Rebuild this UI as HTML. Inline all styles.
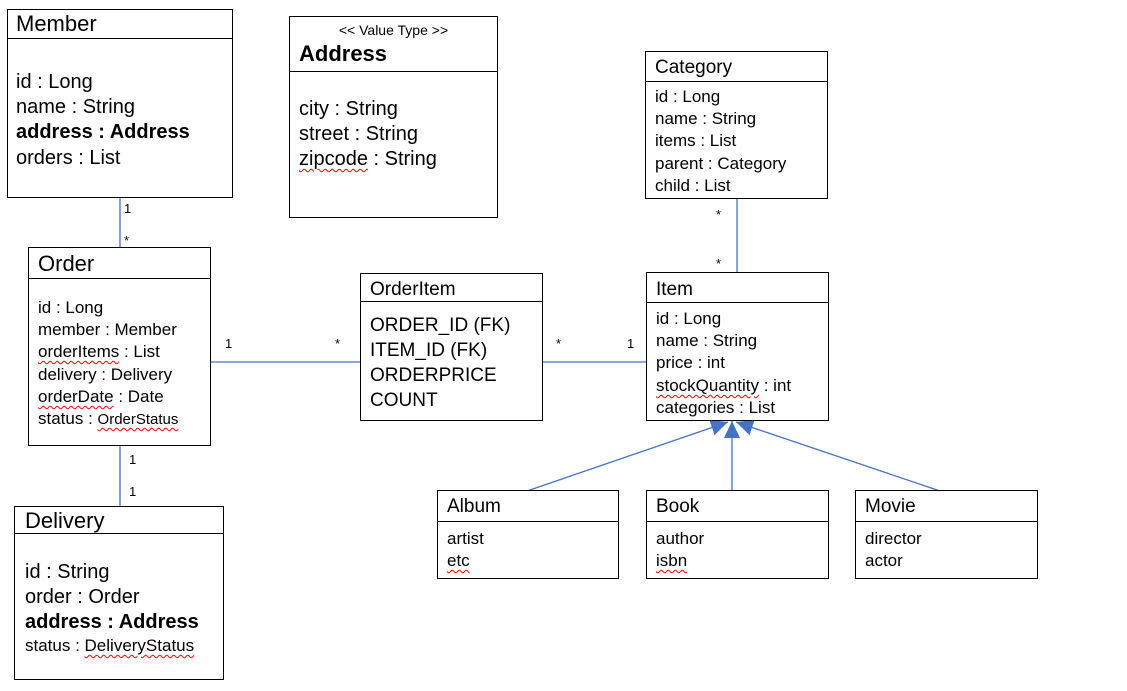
<!DOCTYPE html>
<html><head><meta charset="utf-8"><style>
body{margin:0;background:#fff;width:1127px;height:691px;position:relative;overflow:hidden;font-family:"Liberation Sans","Noto Sans CJK KR",sans-serif;color:#000}
.b{position:absolute;border:1px solid #000;box-sizing:border-box;background:#fff}
.l{position:absolute;left:0;right:0;border-top:1px solid #000}
.t{position:absolute;white-space:nowrap;line-height:1}
.w{text-decoration:underline wavy red;text-decoration-thickness:1px;text-underline-offset:3px}
svg{position:absolute;left:0;top:0}
</style></head><body>
<svg width="1127" height="691">
<defs><marker id="m" markerWidth="18" markerHeight="16" refX="17" refY="8" orient="auto" markerUnits="userSpaceOnUse"><path d="M0,0 L17,8 L0,16 Z" fill="#4472C4"/></marker></defs>
<g stroke="#4472C4" stroke-width="1.3" fill="none">
<line x1="120" y1="197" x2="120" y2="247"/>
<line x1="120" y1="445" x2="120" y2="506"/>
<line x1="210" y1="362" x2="360" y2="362"/>
<line x1="542" y1="362" x2="646" y2="362"/>
<line x1="737" y1="198" x2="737" y2="272"/>
<line x1="527" y1="491" x2="728" y2="422" marker-end="url(#m)"/>
<line x1="732" y1="491" x2="732" y2="421" marker-end="url(#m)"/>
<line x1="940" y1="491" x2="736" y2="422" marker-end="url(#m)"/>
</g></svg>
<div class="t" style="left:124px;top:202px;font-size:13px">1</div>
<div class="t" style="left:124px;top:234px;font-size:13px">*</div>
<div class="t" style="left:129px;top:453px;font-size:13px">1</div>
<div class="t" style="left:129px;top:485px;font-size:13px">1</div>
<div class="t" style="left:225px;top:337px;font-size:13px">1</div>
<div class="t" style="left:335px;top:337px;font-size:13px">*</div>
<div class="t" style="left:556px;top:337px;font-size:13px">*</div>
<div class="t" style="left:627px;top:337px;font-size:13px">1</div>
<div class="t" style="left:716px;top:208px;font-size:13px">*</div>
<div class="t" style="left:716px;top:257px;font-size:13px">*</div>

<div class="b" style="left:7px;top:9px;width:226px;height:189px">
<div class="l" style="top:28px"></div>
<div class="t" style="left:8px;top:3px;font-size:22px">Member</div>
<div class="t" style="left:8px;top:62px;font-size:20px">id : Long</div>
<div class="t" style="left:8px;top:87px;font-size:20px">name : String</div>
<div class="t" style="left:8px;top:112px;font-size:20px;font-weight:bold">address : Address</div>
<div class="t" style="left:8px;top:138px;font-size:20px">orders : List</div>
</div>

<div class="b" style="left:289px;top:16px;width:209px;height:202px">
<div class="l" style="top:54px"></div>
<div class="t" style="left:0;right:0;text-align:center;top:6px;font-size:14px">&lt;&lt; Value Type &gt;&gt;</div>
<div class="t" style="left:9px;top:26px;font-size:22px;font-weight:bold">Address</div>
<div class="t" style="left:9px;top:82px;font-size:20px">city : String</div>
<div class="t" style="left:9px;top:107px;font-size:20px">street : String</div>
<div class="t" style="left:9px;top:132px;font-size:20px"><span class="w">zipcode</span> : String</div>
</div>

<div class="b" style="left:645px;top:51px;width:183px;height:148px">
<div class="l" style="top:29px"></div>
<div class="t" style="left:9px;top:6px;font-size:19px">Category</div>
<div class="t" style="left:9px;top:36px;font-size:17px">id : Long</div>
<div class="t" style="left:9px;top:58px;font-size:17px">name : String</div>
<div class="t" style="left:9px;top:80px;font-size:17px">items : List</div>
<div class="t" style="left:9px;top:103px;font-size:17px">parent : Category</div>
<div class="t" style="left:9px;top:125px;font-size:17px">child : List</div>
</div>

<div class="b" style="left:28px;top:247px;width:183px;height:199px">
<div class="l" style="top:30px"></div>
<div class="t" style="left:9px;top:5px;font-size:22px">Order</div>
<div class="t" style="left:9px;top:51px;font-size:17px">id : Long</div>
<div class="t" style="left:9px;top:73px;font-size:17px">member : Member</div>
<div class="t" style="left:9px;top:95px;font-size:17px"><span class="w">orderItems</span> : List</div>
<div class="t" style="left:9px;top:118px;font-size:17px">delivery : Delivery</div>
<div class="t" style="left:9px;top:140px;font-size:17px"><span class="w">orderDate</span> : Date</div>
<div class="t" style="left:9px;top:162px;font-size:17px">status : <span class="w" style="font-size:15px">OrderStatus</span></div>
</div>

<div class="b" style="left:360px;top:273px;width:183px;height:148px">
<div class="l" style="top:27px"></div>
<div class="t" style="left:9px;top:6px;font-size:19px">OrderItem</div>
<div class="t" style="left:9px;top:42px;font-size:19px">ORDER_ID (FK)</div>
<div class="t" style="left:9px;top:67px;font-size:19px">ITEM_ID (FK)</div>
<div class="t" style="left:9px;top:92px;font-size:19px">ORDERPRICE</div>
<div class="t" style="left:9px;top:117px;font-size:19px">COUNT</div>
</div>

<div class="b" style="left:646px;top:272px;width:183px;height:149px">
<div class="l" style="top:29px"></div>
<div class="t" style="left:9px;top:7px;font-size:19px">Item</div>
<div class="t" style="left:9px;top:37px;font-size:17px">id : Long</div>
<div class="t" style="left:9px;top:59px;font-size:17px">name : String</div>
<div class="t" style="left:9px;top:81px;font-size:17px">price : int</div>
<div class="t" style="left:9px;top:104px;font-size:17px"><span class="w">stockQuantity</span> : int</div>
<div class="t" style="left:9px;top:126px;font-size:17px">categories : List</div>
</div>

<div class="b" style="left:14px;top:506px;width:210px;height:174px">
<div class="l" style="top:26px"></div>
<div class="t" style="left:10px;top:3px;font-size:22px">Delivery</div>
<div class="t" style="left:10px;top:55px;font-size:20px">id : String</div>
<div class="t" style="left:10px;top:80px;font-size:20px">order : Order</div>
<div class="t" style="left:10px;top:105px;font-size:20px;font-weight:bold">address : Address</div>
<div class="t" style="left:10px;top:130px;font-size:17px">status : <span class="w">DeliveryStatus</span></div>
</div>

<div class="b" style="left:437px;top:490px;width:182px;height:89px">
<div class="l" style="top:30px"></div>
<div class="t" style="left:9px;top:6px;font-size:19px">Album</div>
<div class="t" style="left:9px;top:39px;font-size:17px">artist</div>
<div class="t" style="left:9px;top:61px;font-size:17px"><span class="w">etc</span></div>
</div>
<div class="b" style="left:646px;top:490px;width:183px;height:89px">
<div class="l" style="top:30px"></div>
<div class="t" style="left:9px;top:6px;font-size:19px">Book</div>
<div class="t" style="left:9px;top:39px;font-size:17px">author</div>
<div class="t" style="left:9px;top:61px;font-size:17px"><span class="w">isbn</span></div>
</div>
<div class="b" style="left:855px;top:490px;width:183px;height:89px">
<div class="l" style="top:30px"></div>
<div class="t" style="left:9px;top:6px;font-size:19px">Movie</div>
<div class="t" style="left:9px;top:39px;font-size:17px">director</div>
<div class="t" style="left:9px;top:61px;font-size:17px">actor</div>
</div>
</body></html>
